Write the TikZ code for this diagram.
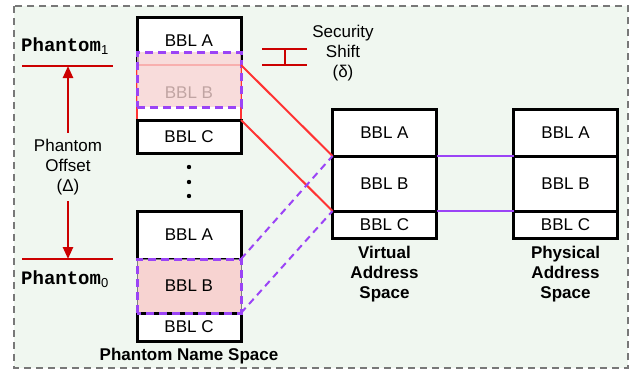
\documentclass[tikz,border=0pt]{standalone}
\usepackage{fontspec}
\setmainfont{Liberation Sans}
\newfontfamily\codefont{Liberation Mono}
\usetikzlibrary{positioning,calc,arrows.meta}

\definecolor{bgGreen}{HTML}{F0F7F0}
\definecolor{frameGray}{HTML}{787878}
\definecolor{markRed}{HTML}{CC0000}
\definecolor{mapRed}{HTML}{FF3333}
\definecolor{ghostPink}{HTML}{F7D3D1}
\definecolor{ghostPurple}{HTML}{9B44F6}

\tikzset{
  bbl/.style={draw,line width=3pt,fill=white,minimum width=104pt,inner sep=0pt,outer sep=0pt,font=\fontsize{17}{20}\selectfont},
  ghost/.style={draw=ghostPurple,line width=3pt,dash pattern=on 8pt off 5pt},
  txt/.style={align=center,inner sep=0pt,font=\fontsize{17}{20}\selectfont},
  caption/.style={txt,font=\fontsize{17}{20}\selectfont\bfseries},
  redline/.style={markRed,line width=2.4pt},
  phantom/.style={inner sep=0pt,anchor=west,font=\codefont\fontsize{19}{22}\selectfont\bfseries}
}
\newcommand{\phsub}[1]{\textsubscript{\normalfont\fontsize{13}{13}\selectfont#1}}

\begin{document}
\begin{tikzpicture}[x=1pt,y=-1pt]
\useasboundingbox (0,0) rectangle (639,370);
\draw[frameGray,line width=2.8pt,dash pattern=on 7pt off 5pt,fill=bgGreen] (14,6) rectangle (628,368);

% phantom name space, shifted copy on top
\node[bbl,draw=none,minimum height=48pt,anchor=north] (pa1) at (189,17) {BBL A};
\node[bbl,draw=mapRed,line width=2pt,minimum height=55pt,below=0pt of pa1] (pb1) {BBL B};
\node[bbl,minimum height=33pt,below=0pt of pb1] (pc1) {BBL C};
\draw[line width=3pt] (pa1.south west) -- (pa1.north west) -- (pa1.north east) -- (pa1.south east);
\node[ghost,fill=ghostPink,fill opacity=0.78,minimum width=104pt,minimum height=55pt,inner sep=0pt,outer sep=0pt,anchor=north] (gb1) at (189,52) {};

\foreach \y in {167,182,196}
  \fill (189,\y) circle (2.2pt);

% phantom name space, original copy
\node[bbl,minimum height=48pt,anchor=north] (pa0) at (189,211) {BBL A};
\node[bbl,draw=gray,line width=1pt,fill=ghostPink,minimum height=54pt,below=0pt of pa0] (pb0) {BBL B};
\node[bbl,minimum height=28pt,below=0pt of pb0] (pc0) {BBL C};
\draw[ghost] (pb0.south west) rectangle (pb0.north east);
\node[caption,below=7pt of pc0] (pns) {Phantom Name Space};

% virtual and physical address spaces
\node[bbl,minimum height=47pt,anchor=north] (va) at (384.5,109) {BBL A};
\node[bbl,minimum height=55pt,below=0pt of va] (vb) {BBL B};
\node[bbl,minimum height=27pt,below=0pt of vb] (vc) {BBL C};
\node[caption,below=8pt of vc] (vas) {Virtual\\Address\\Space};

\node[bbl,minimum height=47pt,anchor=north] (qa) at (565.5,109) {BBL A};
\node[bbl,minimum height=55pt,below=0pt of qa] (qb) {BBL B};
\node[bbl,minimum height=27pt,below=0pt of qb] (qc) {BBL C};
\node[caption,below=8pt of qc] (pas) {Physical\\Address\\Space};

\draw[mapRed,line width=2pt] (pb1.north east) -- (vb.north west);
\draw[mapRed,line width=2pt] (pb1.south east) -- (vc.north west);
\draw[ghostPurple,line width=2pt,dash pattern=on 7pt off 5pt] (pb0.north east) -- (vb.north west);
\draw[ghostPurple,line width=2pt,dash pattern=on 7pt off 5pt] (pb0.south east) -- (vc.north west);
\draw[ghostPurple,line width=2.2pt] (vb.north east) -- (qb.north west);
\draw[ghostPurple,line width=2.2pt] (vc.north east) -- (qc.north west);

% phantom offsets
\coordinate (m1) at (68,66);
\coordinate (m0) at (68,259);
\draw[redline] (22,66) -- (113,66);
\draw[redline] (22,259) -- (113,259);
\node[phantom] (ph1) at (21,46) {Phantom\phsub{1}};
\node[phantom] (ph0) at (21,279) {Phantom\phsub{0}};
\node[txt,inner sep=6pt] (off) at (68,167) {Phantom\\Offset\\(Δ)};
\draw[redline,-{Triangle[length=12pt,width=10pt]}] (off.north) -- (m1);
\draw[redline,-{Triangle[length=12pt,width=10pt]}] (off.south) -- (m0);

% security shift
\draw[redline] (262,49) -- (307,49) (262,65) -- (307,65) (285,49) -- (285,65);
\node[txt] (shift) at (343,53) {Security\\Shift\\(δ)};
\end{tikzpicture}
\end{document}
